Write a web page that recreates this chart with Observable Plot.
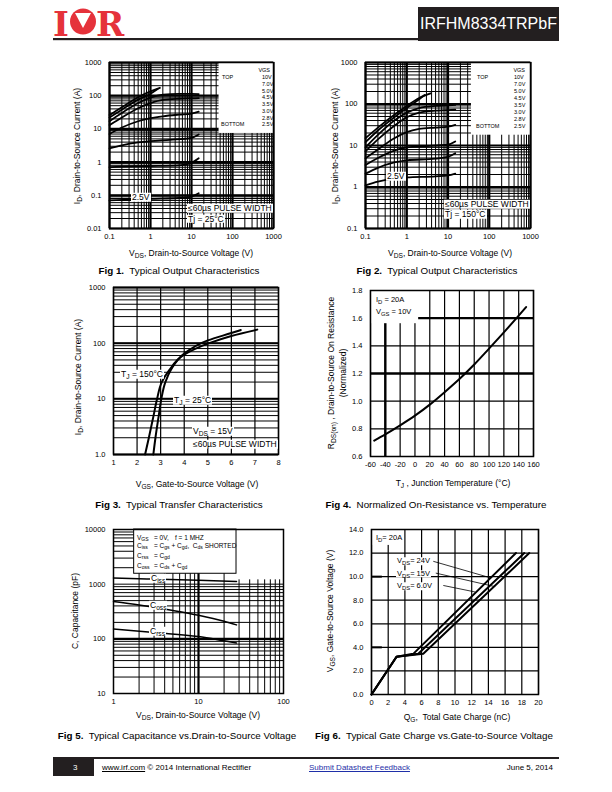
<!DOCTYPE html>
<html><head><meta charset="utf-8">
<script src="https://cdn.jsdelivr.net/npm/d3@7"></script>
<script src="https://cdn.jsdelivr.net/npm/@observablehq/plot@0.6"></script>
<style>
body{margin:0;width:612px;height:792px;position:relative;background:#fff;font-family:"Liberation Sans",Arial,sans-serif;overflow:hidden;color:#000}
.t{position:absolute;white-space:nowrap;line-height:1}
sub{font-size:78%;vertical-align:-0.3em;line-height:0}
.wb{background:#fff;padding:0 1px}
</style></head><body>
<script>
// ---------------- DATA ----------------
const fig1VGS = ["10V","7.0V","5.0V","4.5V","3.5V","3.0V","2.8V","2.5V"];
const fig1Curves = [
  [[0.1,26],[0.2,45],[0.5,90],[1,135],[1.7,172]],
  [[0.1,22],[0.2,38],[0.5,76],[1,115],[1.5,160]],
  [[0.1,17],[0.2,30],[0.5,60],[1,88],[2,108],[5,113],[10,113],[15,112]],
  [[0.1,13],[0.2,22],[0.5,42],[1,60],[2,75],[5,81],[10,83],[15,84]],
  [[0.1,7],[0.2,11],[0.5,17],[1,21],[2,24],[5,27],[10,29],[15,33]],
  [[0.1,2.6],[0.2,3.2],[0.5,3.9],[1,4.3],[3,4.7],[10,5.4],[15,6.8]],
  [[0.1,0.7],[0.3,0.74],[1,0.76],[5,0.8],[10,0.95],[15,1.3]],
  [[0.1,0.07],[1,0.078],[5,0.083],[10,0.092],[15,0.115]]
];
const fig2VGS = ["10V","7.0V","5.0V","4.5V","3.5V","3.0V","2.8V","2.5V"];
const fig2Curves = [
  [[0.1,15],[0.2,27],[0.5,55],[1,90],[2,140],[3.8,180]],
  [[0.1,12],[0.2,23],[0.5,48],[1,80],[2,130],[2.7,165]],
  [[0.1,9],[0.2,18],[0.5,40],[1,62],[2,80],[5,90],[10,93],[15,95]],
  [[0.1,7.2],[0.2,14],[0.5,30],[1,48],[2,62],[5,69],[10,71],[15,73]],
  [[0.1,4.9],[0.2,8],[0.5,15],[1,21],[2,25],[5,27],[10,28.5],[15,31.5]],
  [[0.1,3.4],[0.2,5],[0.5,7.5],[1,9],[3,9.7],[10,10.5],[15,12.5]],
  [[0.1,2.1],[0.2,2.9],[0.5,3.9],[1,4.4],[5,4.8],[10,5.3],[15,6.5]],
  [[0.1,1.1],[0.2,1.35],[0.5,1.6],[1,1.7],[5,1.8],[10,1.9],[15,2.1]]
];
const fig1XTicks = [0.1,1,10,100,1000];
const fig1YTicks = [0.01,0.1,1,10,100,1000];
const fig2YTicks = [0.1,1,10,100,1000];

const fig3Tj150 = [[2.34,1],[2.5,2],[2.7,5],[2.85,10],[3.05,20],[3.35,32],[4,62],[5,98],[6,135],[7.1,175]];
const fig3Tj25  = [[2.69,1],[2.78,2],[2.92,5],[3.03,10],[3.2,20],[3.45,34],[4,65],[5,112],[6,152],[6.4,172]];
const fig3XTicks = [1,2,3,4,5,6,7,8];
const fig3YTicks = [1,10,100,1000];
const fig3YLabels = ["1.0","10","100","1000"];

const fig4Temp = [-55,-40,-20,0,20,40,60,80,100,120,140,150];
const fig4Rds  = [0.715,0.76,0.825,0.895,0.975,1.065,1.16,1.265,1.38,1.497,1.618,1.68];
const fig4XTicks = [-60,-40,-20,0,20,40,60,80,100,120,140,160];
const fig4YTicks = [0.6,0.8,1.0,1.2,1.4,1.6,1.8];

const fig5Ciss = [[1,1290],[3,1240],[10,1180],[28,1115]];
const fig5Coss = [[1,480],[2,415],[5,330],[10,270],[20,210],[28,180]];
const fig5Crss = [[1,151],[3,130],[10,110],[20,92],[28,84]];
const fig5XTicks = [1,10,100];
const fig5YTicks = [10,100,1000,10000];

const fig6VDS = ["24V","15V","6.0V"];
const fig6Curves = [
  [[0,0],[3,3.2],[6.2,3.45],[18.9,12]],
  [[0,0],[3,3.2],[5.6,3.45],[18.3,12]],
  [[0,0],[3,3.2],[5.0,3.45],[17.3,12]]
];
const fig6XTicks = [0,2,4,6,8,10,12,14,16,18,20];
const fig6YTicks = [0,2,4,6,8,10,12,14];

// ---------------- HELPERS ----------------
const FONT = "'Liberation Sans', Arial, sans-serif";
const TITLE = 8.5, CAP = 9.8;
function logGrid(lo, hi) {
  const out = [];
  for (let e = Math.round(Math.log10(lo)); e < Math.round(Math.log10(hi)); e++)
    for (let d = 1; d < 10; d++) out.push(+(d * Math.pow(10, e)).toPrecision(3));
  out.push(hi);
  return out;
}
function mkPlot(o) {
  const ml = 40, mr = 14, mt = 10, mb = 22;
  const svg = Plot.plot({
    width: o.w + ml + mr, height: o.h + mt + mb,
    marginLeft: ml, marginRight: mr, marginTop: mt, marginBottom: mb,
    x: Object.assign({axis: null}, o.x), y: Object.assign({axis: null}, o.y),
    style: {fontFamily: FONT, fontSize: "7.5px", background: "none", color: "#000", overflow: "visible"},
    marks: o.marks
  });
  svg.style.position = "absolute";
  svg.style.left = (o.left - ml) + "px";
  svg.style.top = (o.top - mt) + "px";
  document.body.appendChild(svg);
}
function xTickText(ticks, labels) {
  return Plot.text(ticks, {x: d => d, frameAnchor: "bottom", dy: 10, text: (d, i) => labels ? labels[i] : String(d), fontSize: 7.5, fill: "#000"});
}
function yTickText(ticks, labels) {
  return Plot.text(ticks, {y: d => d, frameAnchor: "left", dx: -8, textAnchor: "end", text: (d, i) => labels ? labels[i] : String(d), fontSize: 7.5, fill: "#000"});
}
function lines(curves, w) {
  return curves.map(c => Plot.line(c, {x: d => d[0], y: d => d[1], stroke: "#000", strokeWidth: w, curve: "monotone-x"}));
}
function T(html, x, y, o = {}) {
  const d = document.createElement("div");
  d.className = "t" + (o.bg ? " wb" : "");
  d.innerHTML = html;
  d.style.left = x + "px"; d.style.top = y + "px";
  d.style.fontSize = (o.size || 7.5) + "px";
  if (o.bold) d.style.fontWeight = "bold";
  if (o.color) d.style.color = o.color;
  if (o.align) d.style.textAlign = o.align;
  if (o.lh) d.style.lineHeight = o.lh;
  const a = o.anchor || "start";
  const tx = a === "start" ? "0" : a === "middle" ? "-50%" : "-100%";
  d.style.transform = o.rotate ? "translate(-50%,-50%) rotate(-90deg)" : `translate(${tx},-50%)`;
  document.body.appendChild(d);
  return d;
}
const gw = (ws) => ({stroke: "#000", strokeWidth: ws});

// ---------------- FIG 1 ----------------
mkPlot({
  left: 109, top: 62, w: 164, h: 166,
  x: {type: "log", domain: [0.1, 1000]}, y: {type: "log", domain: [0.01, 1000]},
  marks: [
    Plot.ruleX(logGrid(0.1, 1000), {x: d => d, ...gw(1)}),
    Plot.ruleY(logGrid(0.01, 1000), {y: d => d, ...gw(1)}),
    Plot.ruleX(fig1XTicks, {x: d => d, ...gw(2.2)}),
    Plot.ruleY(fig1YTicks, {y: d => d, ...gw(2.2)}),
    Plot.rect([0], {x1: () => 47, x2: () => 1000, y1: () => 7.3, y2: () => 1000, fill: "#fff"}),
    ...lines(fig1Curves, 1.8),
    Plot.frame({stroke: "#000", strokeWidth: 1.5}),
    xTickText(fig1XTicks), yTickText(fig1YTicks)
  ]
});
T("VGS", 270, 71, {size: 5.5, anchor: "end"});
T("TOP", 222, 78, {size: 5.5});
T("BOTTOM", 221, 125, {size: 5.5});
fig1VGS.forEach((v, i) => T(v, 262, 78 + i * 6.75, {size: 5.5}));
T("2.5V", 131, 197, {size: 8.5, bg: true});
T("≤60µs PULSE WIDTH", 187, 208, {size: 8.5, bg: true});
T("Tj = 25°C", 187, 218.5, {size: 8.5, bg: true});
T("I<sub>D</sub>, Drain-to-Source Current (A)", 77, 146, {rotate: true, size: TITLE});
T("V<sub>DS</sub>, Drain-to-Source Voltage (V)", 191, 253, {anchor: "middle", size: TITLE});
T("<b>Fig 1.</b>&nbsp; Typical Output Characteristics", 179, 271, {anchor: "middle", size: CAP});

// ---------------- FIG 2 ----------------
mkPlot({
  left: 365, top: 62, w: 165, h: 166,
  x: {type: "log", domain: [0.1, 1000]}, y: {type: "log", domain: [0.1, 1000]},
  marks: [
    Plot.ruleX(logGrid(0.1, 1000), {x: d => d, ...gw(1)}),
    Plot.ruleY(logGrid(0.1, 1000), {y: d => d, ...gw(1)}),
    Plot.ruleX(fig1XTicks, {x: d => d, ...gw(2.2)}),
    Plot.ruleY(fig2YTicks, {y: d => d, ...gw(2.2)}),
    Plot.rect([0], {x1: () => 37, x2: () => 1000, y1: () => 17.7, y2: () => 1000, fill: "#fff"}),
    ...lines(fig2Curves, 1.8),
    Plot.frame({stroke: "#000", strokeWidth: 1.5}),
    xTickText(fig1XTicks), yTickText(fig2YTicks)
  ]
});
T("VGS", 525, 70.5, {size: 5.5, anchor: "end"});
T("TOP", 477, 78, {size: 5.5});
T("BOTTOM", 476, 127, {size: 5.5});
fig2VGS.forEach((v, i) => T(v, 514, 78 + i * 7, {size: 5.5}));
T("2.5V", 386, 176, {size: 8.5, bg: true});
T("≤60µs PULSE WIDTH", 444, 204, {size: 8.5, bg: true});
T("Tj = 150°C", 444, 214, {size: 8.5, bg: true});
T("I<sub>D</sub>, Drain-to-Source Current (A)", 335, 146, {rotate: true, size: TITLE});
T("V<sub>DS</sub>, Drain-to-Source Voltage (V)", 450, 253, {anchor: "middle", size: TITLE});
T("<b>Fig 2.</b>&nbsp; Typical Output Characteristics", 437, 271, {anchor: "middle", size: CAP});

// ---------------- FIG 3 ----------------
mkPlot({
  left: 113, top: 287, w: 165, h: 167,
  x: {domain: [1, 8]}, y: {type: "log", domain: [1, 1000]},
  marks: [
    Plot.ruleX(fig3XTicks, {x: d => d, ...gw(1.2)}),
    Plot.ruleY(logGrid(1, 1000), {y: d => d, ...gw(1)}),
    Plot.ruleY(fig3YTicks, {y: d => d, ...gw(2)}),
    Plot.line(fig3Tj150, {x: d => d[0], y: d => d[1], stroke: "#000", strokeWidth: 2, curve: "monotone-y"}),
    Plot.line(fig3Tj25, {x: d => d[0], y: d => d[1], stroke: "#000", strokeWidth: 2, curve: "monotone-y"}),
    Plot.frame({stroke: "#000", strokeWidth: 1.5}),
    xTickText(fig3XTicks), yTickText(fig3YTicks, fig3YLabels)
  ]
});
T("T<sub>J</sub> = 150°C", 120, 374, {size: 8.5, bg: true});
T("T<sub>J</sub> = 25°C", 173, 400, {size: 8.5, bg: true});
T("V<sub>DS</sub> = 15V", 192, 431, {size: 8.5, bg: true});
T("≤60µs PULSE WIDTH", 192, 444, {size: 8.5, bg: true});
T("I<sub>D</sub>, Drain-to-Source Current (A)", 78, 377, {rotate: true, size: TITLE});
T("V<sub>GS</sub>, Gate-to-Source Voltage (V)", 197, 484, {anchor: "middle", size: TITLE});
T("<b>Fig 3.</b>&nbsp; Typical Transfer Characteristics", 179, 505, {anchor: "middle", size: CAP});

// ---------------- FIG 4 ----------------
mkPlot({
  left: 370, top: 290, w: 163, h: 166,
  x: {domain: [-60, 160]}, y: {domain: [0.6, 1.8]},
  marks: [
    Plot.ruleX(fig4XTicks, {x: d => d, ...gw(1.2)}),
    Plot.ruleY(fig4YTicks, {y: d => d, ...gw(1.2)}),
    Plot.ruleY([1.2, 1.6], {y: d => d, ...gw(2.4)}),
    Plot.ruleX([-40], {x: d => d, ...gw(2.4)}),
    Plot.rect([0], {x1: () => -60, x2: () => 5, y1: () => 1.56, y2: () => 1.8, fill: "#fff"}),
    Plot.line(fig4Temp, {x: d => d, y: (d, i) => fig4Rds[i], stroke: "#000", strokeWidth: 2, curve: "monotone-x"}),
    Plot.frame({stroke: "#000", strokeWidth: 1.5}),
    xTickText(fig4XTicks), yTickText(fig4YTicks, fig4YTicks.map(d3.format(".1f")))
  ]
});
T("I<sub>D</sub> = 20A", 376, 300, {size: 7.5});
T("V<sub>GS</sub> = 10V", 376, 312, {size: 7.5});
T("R<sub>DS(on)</sub> , Drain-to-Source On Resistance<br>(Normalized)", 337.5, 373, {rotate: true, align: "center", lh: "1.4", size: TITLE});
T("T<sub>J</sub> , Junction Temperature (°C)", 453, 483, {anchor: "middle", size: TITLE});
T("<b>Fig 4.</b>&nbsp; Normalized On-Resistance vs. Temperature", 436, 505, {anchor: "middle", size: CAP});

// ---------------- FIG 5 ----------------
mkPlot({
  left: 113, top: 529, w: 170, h: 164,
  x: {type: "log", domain: [1, 100]}, y: {type: "log", domain: [10, 10000]},
  marks: [
    Plot.ruleX(logGrid(1, 100), {x: d => d, ...gw(1)}),
    Plot.ruleY(logGrid(10, 10000), {y: d => d, ...gw(1)}),
    Plot.ruleX([10], {x: d => d, ...gw(2.2)}),
    Plot.ruleY([100], {y: d => d, ...gw(2.2)}),
    Plot.rect([0], {x1: () => 28, x2: () => 100, y1: () => 1200, y2: () => 10000, fill: "#fff"}),
    Plot.rect([0], {x1: () => 1.75, x2: () => 28, y1: () => 1550, y2: () => 10000, fill: "#fff", stroke: "#000", strokeWidth: 1}),
    ...lines([fig5Ciss, fig5Coss, fig5Crss], 1.5),
    Plot.frame({stroke: "#000", strokeWidth: 1.5}),
    xTickText(fig5XTicks), yTickText(fig5YTicks)
  ]
});
T("V<sub>GS</sub>", 137, 537.5, {size: 6.5});
T("= 0V,", 154, 537.5, {size: 6.5});
T("f = 1 MHZ", 175, 537.5, {size: 6.5});
T("C<sub>iss</sub>", 137, 545.5, {size: 6.5});
T("= C<sub>gs</sub> + C<sub>gd</sub>, &nbsp;C<sub>ds</sub> SHORTED", 154, 545.5, {size: 6.5});
T("C<sub>rss</sub>", 137, 555.5, {size: 6.5});
T("= C<sub>gd</sub>", 154, 555.5, {size: 6.5});
T("C<sub>oss</sub>", 137, 565.5, {size: 6.5});
T("= C<sub>ds</sub> + C<sub>gd</sub>", 154, 565.5, {size: 6.5});
T("C<sub>iss</sub>", 150, 578, {size: 8.5, bg: true});
T("C<sub>oss</sub>", 149, 605, {size: 8.5, bg: true});
T("C<sub>rss</sub>", 149, 631, {size: 8.5, bg: true});
T("C, Capacitance (pF)", 75, 611, {rotate: true, size: TITLE});
T("V<sub>DS</sub>, Drain-to-Source Voltage (V)", 198, 715, {anchor: "middle", size: TITLE});
T("<b>Fig 5.</b>&nbsp; Typical Capacitance vs.Drain-to-Source Voltage", 177, 736, {anchor: "middle", size: CAP});

// ---------------- FIG 6 ----------------
mkPlot({
  left: 371, top: 529, w: 167, h: 165,
  x: {domain: [0, 20]}, y: {domain: [0, 14]},
  marks: [
    Plot.ruleX(fig6XTicks, {x: d => d, ...gw(1.2)}),
    Plot.ruleY(fig6YTicks, {y: d => d, ...gw(1.2)}),
    Plot.rect([0], {x1: () => 0, x2: () => 3.7, y1: () => 12.65, y2: () => 14, fill: "#fff"}),
    Plot.ruleY([4, 10], {y: d => d, x1: () => 0, x2: () => 1.3, stroke: "#000", strokeWidth: 2}),
    ...fig6Curves.map(c => Plot.line(c, {x: d => d[0], y: d => d[1], stroke: "#000", strokeWidth: 2})),
    Plot.link([[7.4, 11.3, 14.25, 9.9], [7.7, 10.3, 14.8, 9.15], [8.6, 9.25, 12.4, 8.7]],
      {x1: d => d[0], y1: d => d[1], x2: d => d[2], y2: d => d[3], stroke: "#000", strokeWidth: 0.8}),
    Plot.frame({stroke: "#000", strokeWidth: 1.5}),
    xTickText(fig6XTicks), yTickText(fig6YTicks, fig6YTicks.map(d3.format(".1f")))
  ]
});
T("I<sub>D</sub>= 20A", 376, 538, {size: 7.5});
fig6VDS.forEach((v, i) => T("V<sub>DS</sub>= " + v, 396, 561 + i * 12.5, {size: 7.5, bg: true}));
T("V<sub>GS</sub>, Gate-to-Source Voltage (V)", 330, 611, {rotate: true, size: TITLE});
T("Q<sub>G</sub>,&nbsp; Total Gate Charge (nC)", 457, 717, {anchor: "middle", size: TITLE});
T("<b>Fig 6.</b>&nbsp; Typical Gate Charge vs.Gate-to-Source Voltage", 434, 736, {anchor: "middle", size: CAP});

// ---------------- HEADER / FOOTER ----------------
document.body.insertAdjacentHTML("beforeend", `
<svg style="position:absolute;left:0;top:0" width="612" height="50">
  <text x="53" y="36" font-family="DejaVu Serif" font-weight="bold" font-size="34" fill="#e5323b">I</text>
  <circle cx="83" cy="21.5" r="13" fill="#e5323b"/>
  <path d="M75,13 L91,13 L83,28 Z" fill="#fff"/>
  <text x="96" y="36" font-family="DejaVu Serif" font-weight="bold" font-size="34" fill="#e5323b">R</text>
  <rect x="53" y="38" width="367" height="2.2" fill="#231f20"/>
  <rect x="418" y="7" width="141" height="34" fill="#231f20"/>
  <text x="488.5" y="29" text-anchor="middle" font-family="Liberation Sans, Arial" font-size="16" fill="#fff">IRFHM8334TRPbF</text>
</svg>
<div style="position:absolute;left:53px;top:757px;width:506px;height:2px;background:#231f20"></div>
<div style="position:absolute;left:53px;top:757px;width:41px;height:19px;background:#231f20"></div>
`);
T("3", 73, 768, {size: 8, color: "#fff"});
T("<u>www.irf.com</u> © 2014 International Rectifier", 102, 768, {size: 8});
T("<u>Submit Datasheet Feedback</u>", 309, 768, {size: 8, color: "#1f2fa8"});
T("June 5, 2014", 553, 768, {size: 8, anchor: "end"});
</script>
</body></html>
